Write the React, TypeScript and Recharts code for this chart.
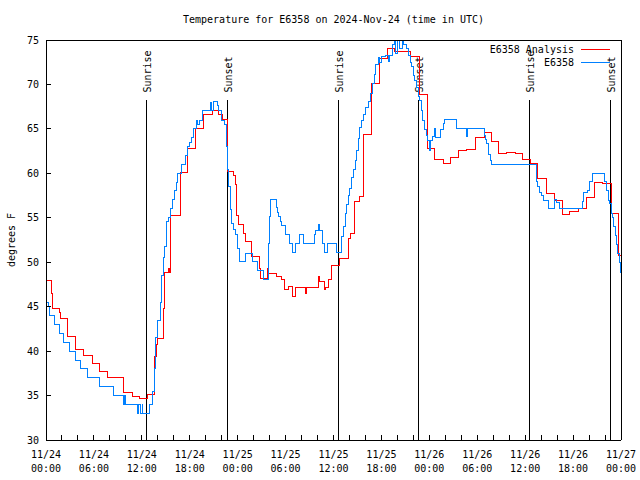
import React from 'react';
import { LineChart, Line, XAxis, YAxis, ReferenceLine, Legend } from 'recharts';

const FONT = '"DejaVu Sans Mono", "Liberation Mono", monospace';
const TITLE = 'Temperature for E6358 on 2024-Nov-24 (time in UTC)';

// ---- Data (hours since 2024-11-24 00:00 UTC, °F) ----
const analysisHours = [
  0, 0.71, 0.85, 1.75, 1.87, 2.71, 3.7, 4.67, 5.8, 6.76, 7.72, 9.72, 10.8, 11.77, 12.7, 13.56, 13.78, 13.9, 14.0, 14.69,
  14.9, 15.4, 15.5, 15.65, 16.78, 16.86, 17.74, 18.74, 19.7, 20.82, 21.6, 22.08, 22.7, 23.45, 23.79, 23.9, 24.08, 24.72, 24.95, 25.76,
  26.68, 26.8, 27.7, 27.8, 28.59, 28.89, 29.51, 29.84, 30.34, 30.84, 31.18, 32.52, 32.6, 34.1, 34.25, 34.93, 35.0, 35.35, 35.78, 36.69,
  37.94, 38.19, 38.69, 39.23, 39.73, 40.78, 41.74, 42.74, 43.7, 45.67, 46.74, 47.8, 48.62, 49.75, 50.59, 51.63, 52.68, 53.72, 54.85, 55.81,
  56.64, 57.69, 58.73, 59.64, 60.61, 61.57, 62.61, 63.65, 64.65, 65.61, 66.65, 67.62, 68.62, 69.71, 70.75, 71.66, 72,
];
const analysisTemps = [
  48.0, 46.5, 44.8, 44.3, 43.7, 41.7, 40.2, 39.5, 38.6, 37.7, 37.0, 35.4, 34.95, 34.7, 35.1, 39.45, 40.8, 41.0, 41.4, 44.8,
  48.9, 49.3, 48.9, 55.3, 57.6, 60.1, 62.8, 65.1, 66.6, 67.1, 66.6, 66.1, 60.2, 59.8, 58.7, 55.3, 54.2, 53.25, 52.3, 50.7,
  49.3, 48.2, 49.3, 48.7, 48.75, 48.4, 48.1, 46.9, 47.25, 46.1, 47.2, 46.5, 47.2, 48.45, 47.8, 46.9, 47.2, 48.1, 49.6, 50.4,
  52.7, 53.25, 56.8, 57.4, 64.4, 70.1, 72.9, 74.0, 73.7, 73.2, 68.9, 62.8, 61.6, 61.1, 61.8, 62.55, 62.7, 64.0, 64.6, 63.6,
  62.25, 62.4, 62.2, 61.6, 61.1, 59.4, 57.75, 56.9, 55.4, 55.7, 56.1, 57.3, 59.0, 58.9, 55.5, 50.8, 50.8,
];

const stationHours = [
  0, 0.29, 0.5, 1.04, 1.63, 2.17, 2.88, 3.7, 4.38, 5.22, 6.68, 8.47, 9.72, 9.85, 9.9, 11.48, 11.6, 11.77, 11.85, 11.98,
  12.05, 12.1, 12.93, 13.36, 13.56, 13.77, 13.98, 14.28, 14.49, 14.69, 14.82, 15.11, 15.3, 15.56, 15.86, 16.03, 16.28, 16.49, 16.99, 17.49,
  17.69, 17.94, 18.16, 18.45, 18.87, 18.96, 19.28, 19.57, 20.62, 20.7, 20.95, 21.45, 21.66, 22.0, 22.33, 22.54, 22.7, 22.82, 23.04, 23.25,
  23.46, 23.67, 23.98, 24.29, 24.92, 25.8, 26.5, 27.18, 27.84, 27.97, 28.14, 28.8, 28.96, 29.13, 29.36, 29.55, 29.93, 30.43, 30.85, 31.2,
  31.68, 32.22, 33.6, 33.78, 34.1, 34.3, 34.6, 34.85, 35.28, 36.4, 37.03, 37.25, 37.45, 37.65, 37.85, 38.05, 38.3, 38.5, 38.7, 38.9,
  39.1, 39.3, 39.5, 39.7, 39.95, 40.35, 40.6, 40.85, 41.1, 41.3, 41.6, 41.8, 42.0, 42.45, 42.9, 43.0, 43.4, 43.7, 43.8, 44.0,
  44.3, 44.6, 44.8, 45.2, 45.4, 45.6, 45.8, 46.0, 46.2, 46.4, 46.6, 46.8, 47.0, 47.2, 47.4, 47.6, 47.8, 48.0, 48.05, 48.12,
  48.2, 48.37, 48.7, 48.8, 49.34, 49.75, 49.96, 51.43, 52.68, 52.73, 54.85, 55.0, 55.18, 55.39, 55.6, 55.81, 61.36, 61.57, 61.77, 62.07,
  62.27, 62.9, 63.65, 63.95, 64.36, 67.2, 67.28, 67.78, 68.03, 68.46, 69.91, 70.21, 70.41, 70.62, 70.75, 70.96, 71.04, 71.25, 71.38, 71.54,
  71.79, 71.95, 72,
];
const stationTemps = [
  45.5, 45.0, 44.0, 43.0, 42.0, 41.0, 40.0, 39.0, 38.0, 37.0, 36.0, 35.0, 34.0, 35.0, 34.0, 33.0, 34.0, 34.0, 33.0, 33.0,
  34.0, 33.0, 34.0, 35.5, 38.0, 41.5, 43.5, 45.5, 48.5, 50.5, 51.75, 54.6, 55.05, 56.1, 57.1, 58.1, 59.0, 60.0, 61.05, 62.0,
  63.0, 63.5, 64.05, 65.06, 66.0, 65.5, 66.0, 67.1, 68.0, 67.1, 68.1, 67.6, 67.1, 66.0, 65.5, 63.0, 60.4, 58.5, 55.9, 54.4,
  53.7, 53.1, 51.6, 50.1, 51.0, 50.1, 49.1, 48.1, 52.1, 55.1, 57.1, 56.2, 55.6, 55.1, 54.6, 54.1, 53.1, 52.1, 51.1, 52.1,
  53.1, 52.1, 53.1, 53.6, 54.2, 53.6, 52.1, 51.1, 52.1, 51.1, 52.9, 54.0, 55.5, 56.5, 57.5, 58.3, 59.5, 60.4, 61.5, 62.6,
  63.9, 65.2, 65.9, 66.6, 67.4, 68.1, 69.0, 70.1, 71.1, 72.3, 73.0, 72.5, 73.1, 73.3, 72.6, 73.3, 74.5, 75.5, 73.5, 75.5,
  74.0, 75.5, 74.5, 74.0, 73.3, 72.5, 72.0, 71.0, 70.5, 69.7, 68.6, 68.25, 67.1, 66.0, 64.9, 64.3, 63.75, 63.2, 62.6, 63.2,
  63.75, 64.1, 65.06, 64.05, 64.95, 65.6, 66.1, 65.06, 64.1, 65.06, 64.3, 63.8, 63.4, 62.1, 61.5, 61.05, 59.1, 58.5, 57.9, 57.5,
  57.0, 56.06, 57.1, 56.7, 56.06, 56.8, 57.9, 58.1, 59.1, 60.0, 59.1, 58.1, 57.0, 56.6, 55.5, 55.0, 54.0, 53.0, 52.0, 51.0,
  50.0, 48.9, 48.9,
];

const sunHours = [12.56, 22.7, 36.6, 46.62, 60.52, 70.7];
const sunNames = ['Sunrise', 'Sunset', 'Sunrise', 'Sunset', 'Sunrise', 'Sunset'];

const seriesNames = ['E6358 Analysis', 'E6358'];

const hourTicks = [0, 2, 4, 6, 8, 10, 12, 14, 16, 18, 20, 22, 24, 26, 28, 30, 32, 34, 36, 38, 40, 42, 44, 46, 48, 50, 52, 54, 56, 58, 60, 62, 64, 66, 68, 70, 72];
const majorHours = [0, 6, 12, 18, 24, 30, 36, 42, 48, 54, 60, 66, 72];
const dateLabels = ['11/24', '11/24', '11/24', '11/24', '11/25', '11/25', '11/25', '11/25', '11/26', '11/26', '11/26', '11/26', '11/27'];
const timeLabels = ['00:00', '06:00', '12:00', '18:00', '00:00', '06:00', '12:00', '18:00', '00:00', '06:00', '12:00', '18:00', '00:00'];
const tempTicks = [30, 35, 40, 45, 50, 55, 60, 65, 70, 75];

const analysisData = analysisHours.map((t, i) => ({ t, v: analysisTemps[i] }));
const stationData = stationHours.map((t, i) => ({ t, v: stationTemps[i] }));

const SUN_LINE_TOP = 68.3;
const axisStyle = { stroke: '#000', strokeWidth: 1, shapeRendering: 'crispEdges' } as any;

function TimeTick(props: any) {
  const { x, y, payload } = props;
  const i = majorHours.indexOf(payload.value);
  if (i < 0) return null;
  return (
    <g>
      <text x={x} y={y + 23} textAnchor="middle" fontFamily={FONT} fontSize={10} fill="#000">{dateLabels[i]}</text>
      <text x={x} y={y + 37} textAnchor="middle" fontFamily={FONT} fontSize={10} fill="#000">{timeLabels[i]}</text>
    </g>
  );
}

function YLabel(props: any) {
  const vb = props.viewBox || { x: 0, y: 40, width: 46, height: 400 };
  const x = vb.x + 11;
  const y = vb.y + vb.height / 2;
  return (
    <text x={x} y={y} transform={`rotate(-90 ${x} ${y})`} textAnchor="middle" dy="0.35em" fontFamily={FONT} fontSize={10} fill="#000">
      degrees F
    </text>
  );
}

function SunLabel(props: any) {
  const { viewBox, value } = props;
  if (!viewBox) return null;
  const x = viewBox.x;
  const y = viewBox.y - 7;
  return (
    <text x={x} y={y} transform={`rotate(-90 ${x} ${y})`} textAnchor="start" dy="0.45em" fontFamily={FONT} fontSize={10} fill="#000">
      {value}
    </text>
  );
}

function LegendBox(props: any) {
  const payload = [...(props.payload || [])].sort(
    (a: any, b: any) => seriesNames.indexOf(a.value) - seriesNames.indexOf(b.value)
  );
  return (
    <div style={{ fontFamily: FONT, fontSize: 10, color: '#000' }}>
      {payload.map((e: any) => (
        <div key={e.value} style={{ display: 'flex', justifyContent: 'flex-end', alignItems: 'center', height: 13 }}>
          <span style={{ lineHeight: '13px', whiteSpace: 'pre' }}>{e.value}</span>
          <span style={{ display: 'inline-block', width: 29, height: 0, borderTop: `1px solid ${e.color}`, marginLeft: 7 }} />
        </div>
      ))}
    </div>
  );
}

export default function App() {
  return (
    <div style={{ position: 'absolute', left: 0, top: 0, width: 640, height: 480, background: '#fff' }}>
      <div
        style={{
          position: 'absolute', left: 46, width: 575, top: 13, textAlign: 'center',
          fontFamily: FONT, fontSize: 10, lineHeight: '13px', color: '#000', whiteSpace: 'pre', zIndex: 2,
        }}
      >
        {TITLE}
      </div>
      <LineChart width={640} height={480} margin={{ top: 20, right: 0, bottom: 0, left: 0 }}>
        <XAxis
          xAxisId="b" dataKey="t" type="number" domain={[0, 72]} ticks={hourTicks} interval={0}
          allowDataOverflow height={40} tickSize={-5} tickMargin={0} tick={<TimeTick />}
          axisLine={axisStyle} tickLine={axisStyle}
        />
        <XAxis
          xAxisId="t" orientation="top" dataKey="t" type="number" domain={[0, 72]} ticks={hourTicks} interval={0}
          allowDataOverflow height={20} tickSize={-5} tick={false} axisLine={axisStyle} tickLine={axisStyle}
        />
        <YAxis
          yAxisId="l" type="number" domain={[30, 75]} ticks={tempTicks} interval={0} allowDataOverflow width={46}
          tickSize={-5} tickMargin={12} tick={{ fontFamily: FONT, fontSize: 10, fill: '#000' }}
          axisLine={axisStyle} tickLine={axisStyle} label={<YLabel />}
        />
        <YAxis
          yAxisId="r" orientation="right" type="number" domain={[30, 75]} ticks={tempTicks} interval={0} allowDataOverflow
          width={19} tickSize={-5} tick={false} axisLine={axisStyle} tickLine={axisStyle}
        />
        <Legend
          layout="horizontal" verticalAlign="middle" align="center"
          wrapperStyle={{ left: 410, top: 43, width: 200 }}
          content={<LegendBox />}
        />
        {sunHours.map((h, i) => (
          <ReferenceLine
            key={`sun-${i}`}
            xAxisId="b" yAxisId="l"
            segment={[{ x: h, y: SUN_LINE_TOP }, { x: h, y: 30 }]}
            stroke="#000" strokeWidth={1} shapeRendering="crispEdges"
            label={{ value: sunNames[i], content: SunLabel }}
          />
        ))}
        <Line
          xAxisId="b" yAxisId="l" data={analysisData} dataKey="v" name={seriesNames[0]} type="stepAfter"
          stroke="#ff0000" strokeWidth={1} dot={false} activeDot={false} isAnimationActive={false} shapeRendering="crispEdges"
        />
        <Line
          xAxisId="b" yAxisId="l" data={stationData} dataKey="v" name={seriesNames[1]} type="stepAfter"
          stroke="#0080ff" strokeWidth={1} dot={false} activeDot={false} isAnimationActive={false} shapeRendering="crispEdges"
        />
      </LineChart>
    </div>
  );
}
